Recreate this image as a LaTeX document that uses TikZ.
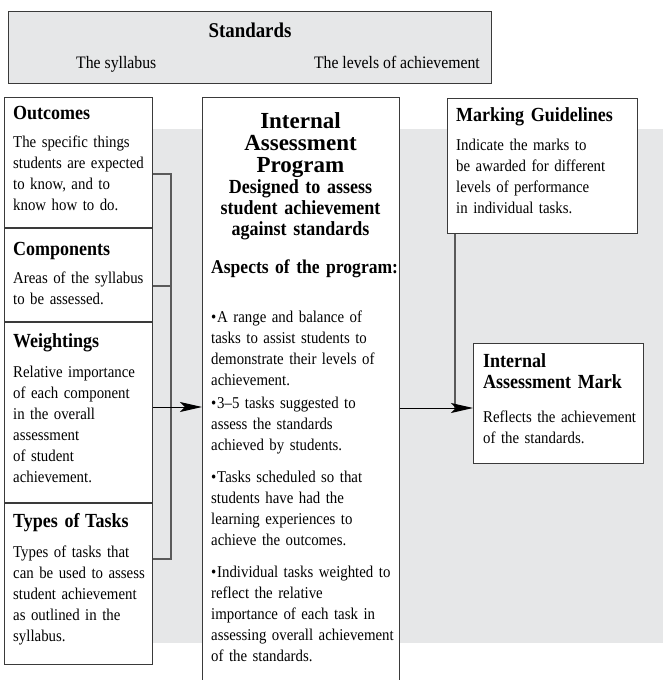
\documentclass[tikz,border=0pt]{standalone}
\usepackage{fontspec}
\setmainfont{Liberation Serif}
\newfontfamily\narrowserif{Liberation Serif}[Ligatures=TeX,FakeStretch=0.9]
\usetikzlibrary{arrows.meta,calc}

\definecolor{bggray}{HTML}{E6E7E8}
\definecolor{edge}{HTML}{3A3A3A}
\definecolor{wire}{HTML}{5A5A5A}

\newcommand\iabul{\hangindent=6pt\hangafter=1\makebox[6pt][l]{\textbullet}}

\tikzset{
  frame/.style={draw=edge,line width=0.9pt,fill=white,anchor=north west,inner sep=0pt},
  head/.style={anchor=base west,inner sep=0pt,align=left,text width=190,
    font=\narrowserif\fontsize{20}{21}\selectfont\bfseries},
  body/.style={anchor=base west,inner sep=0pt,align=left,text width=190,
    font=\narrowserif\fontsize{16.5}{21}\selectfont},
  link/.style={draw=wire,line width=1.1pt},
  tip/.style={-{Stealth[length=22pt,width=10pt,inset=5pt]},draw=black,line width=1pt}
}

\begin{document}
\begin{tikzpicture}[x=1pt,y=-1pt]
\useasboundingbox (0,0) rectangle (663,680);
\clip (0,0) rectangle (663,680);

% ---- grey band behind the boxes ----
\fill[bggray] (30,129) rectangle (663,643);

% ---- standards bar ----
\node[frame,fill=bggray,minimum width=483,minimum height=72] (std) at (8,11) {};
\node[anchor=base,inner sep=0pt,font=\narrowserif\fontsize{21}{21}\selectfont\bfseries] (stdt) at (250,37) {Standards};
\node[anchor=base west,inner sep=0pt,font=\narrowserif\fontsize{17.5}{21}\selectfont] (syl) at (76,68) {The syllabus};
\node[anchor=base east,inner sep=0pt,font=\narrowserif\fontsize{17.5}{21}\selectfont] (lev) at (480,68) {The levels of achievement};

% ---- left column ----
\node[frame,minimum width=148,minimum height=130] (outc) at (4,97) {};
\node[frame,minimum width=148,minimum height=93]  (comp) at (outc.south west) {};
\node[frame,minimum width=148,minimum height=180] (weig) at (comp.south west) {};
\node[frame,minimum width=148,minimum height=161] (tasks) at (weig.south west) {};

\node[head] (outch) at (13,119) {Outcomes};
\node[body] (outcb) at (13,147) {The specific things\\students are expected\\to know, and to\\know how to do.};
\node[head] (comph) at (13,255) {Components};
\node[body] (compb) at (13,283) {Areas of the syllabus\\to be assessed.};
\node[head] (weigh) at (13,347) {Weightings};
\node[body] (weigb) at (13,377) {Relative importance\\of each component\\in the overall\\assessment\\of student\\achievement.};
\node[head] (tasksh) at (13,527) {Types of\kern-1pt\ Tasks};
\node[body] (tasksb) at (13,557) {Types of tasks that\\can be used to assess\\student achievement\\as outlined in the\\syllabus.};

% ---- middle column ----
\node[frame,minimum width=197,minimum height=600] (prog) at (202,97) {};
\node[anchor=base,inner sep=0pt,align=center,text width=190,
  font=\fontsize{23}{22}\selectfont\bfseries] (progh) at (300.5,128) {Internal\\Assessment\\Program};
\node[anchor=base,inner sep=0pt,align=center,text width=190,
  font=\narrowserif\fontsize{20}{21}\selectfont\bfseries] (progd) at (300.5,193) {Designed to assess\\student achievement\\against standards};
\node[head,font=\narrowserif\fontsize{19.5}{21}\selectfont\bfseries] (aspt) at (211,273) {Aspects of the program:};
\node[body] (bulA) at (211,322) {\iabul A range and balance of\\tasks to assist students to\\demonstrate their levels of\\achievement.};
\node[body] (bulB) at (211,408) {\iabul 3–5 tasks suggested to\\assess the standards\\achieved by students.};
\node[body] (bulC) at (211,482) {\iabul Tasks scheduled so that\\students have had the\\learning experiences to\\achieve the outcomes.};
\node[body] (bulD) at (211,577) {\iabul Individual tasks weighted to\\reflect the relative\\importance of each task in\\assessing overall achievement\\of the standards.};

% ---- right column ----
\node[frame,minimum width=190,minimum height=135] (mark) at (447,98) {};
\node[head] (markh) at (456,121) {Marking Guidelines};
\node[body] (markb) at (456,150) {Indicate the marks to\\be awarded for different\\levels of performance\\in individual tasks.};

\node[frame,minimum width=170,minimum height=120] (iam) at (473,343) {};
\node[head] (iamh) at (483,367) {Internal\\Assessment Mark};
\node[body] (iamb) at (483,422) {Reflects the achievement\\of the standards.};

% ---- bracket joining the left boxes ----
\coordinate (brT) at (171,174);
\coordinate (brB) at (171,559);
\draw[link] (outc.east |- brT) -- (brT) -- (brB) -- (tasks.east |- brB);
\draw[link] (comp.east |- 0,286) -- (171,286);
\draw[tip] (weig.east |- 0,407) -- (prog.west |- 0,407);

% ---- into the mark ----
\coordinate (mj) at (455,408);
\draw[link] (mark.south -| mj) -- (mj);
\draw[tip] (prog.east |- mj) -- (iam.west |- mj);

\end{tikzpicture}
\end{document}
